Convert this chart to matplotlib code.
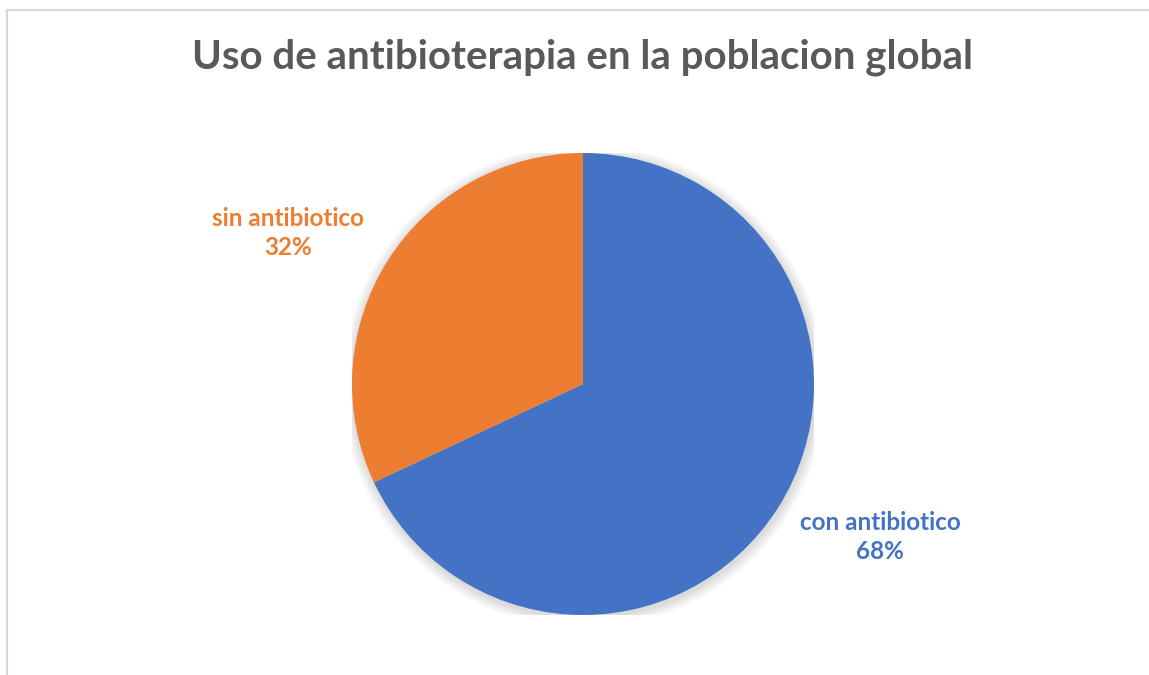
import matplotlib.pyplot as plt
from matplotlib.patches import Circle
from matplotlib.lines import Line2D

categorias = ['con antibiotico', 'sin antibiotico']
porcentajes = [68, 32]
colores = ['#4472C4', '#ED7D31']

W, H = 1149, 675
fig = plt.figure(figsize=(W / 100, H / 100), dpi=100)
fig.patch.set_facecolor('white')

# marco del area del grafico
fig.add_artist(Line2D([7 / W, 7 / W], [0, 1 - 10 / H], color='#D9D9D9', lw=1.5))
fig.add_artist(Line2D([7 / W, 1], [1 - 10 / H, 1 - 10 / H], color='#D9D9D9', lw=1.5))

fig.text(582 / W, 1 - 57 / H, 'Uso de antibioterapia en la poblacion global',
         ha='center', va='center', fontsize=29, fontweight='bold',
         color='#595959', family='Lato')

cx, cy, r = 583, 384, 231
ax = fig.add_axes([(cx - r) / W, (H - cy - r) / H, 2 * r / W, 2 * r / H])

# sombra suave alrededor del circulo
for i in range(12):
    ax.add_patch(Circle((0.004, -0.01), 1 + 0.004 * (12 - i), color='black',
                        alpha=0.012, lw=0, zorder=0))

ax.pie(porcentajes, colors=colores, startangle=90, counterclock=False,
       radius=1, wedgeprops=dict(linewidth=0), frame=True)
ax.set_xlim(-1, 1)
ax.set_ylim(-1, 1)
ax.axis('off')

pos_etiquetas = [(880, 537), (288, 233)]
for cat, p, col, (x, y) in zip(categorias, porcentajes, colores, pos_etiquetas):
    fig.text(x / W, 1 - y / H, f'{cat}\n{p}%', ha='center', va='center',
             fontsize=17.5, fontweight='bold', color=col, family='Lato',
             linespacing=1.3)

fig.savefig('out.png', dpi=100)
